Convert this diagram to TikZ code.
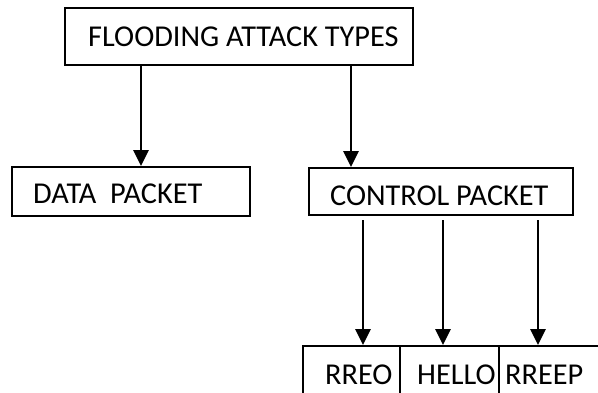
\documentclass[tikz,border=0pt]{standalone}
\usepackage{fontspec}
\setmainfont{Carlito}
\usetikzlibrary{arrows.meta,positioning}
\tikzset{
  box/.style={rectangle, draw=black, line width=1.8pt, inner sep=0pt},
  lbl/.style={anchor=base west, inner sep=0pt, font=\fontsize{30.3}{33}\selectfont},
  arr/.style={line width=2.4pt, -{Triangle[length=16pt, width=15pt]}}
}

\begin{document}
\begin{tikzpicture}[x=1pt, y=-1pt]
  \useasboundingbox (0,0) rectangle (598,392);
  % boxes
  \node[box, minimum width=348pt, minimum height=57pt] (types) at (239, 36.5) {};
  \node[box, minimum width=238pt, minimum height=49pt] (datapkt) at (131, 191.5) {};
  \node[box, minimum width=264pt, minimum height=47pt] (ctrlpkt) at (441, 191.5) {};
  \node[box, minimum width=97pt, minimum height=60pt] (rreq) at (351.5, 376) {};
  \node[box, minimum width=99pt, minimum height=60pt] (hello) at (449.5, 376) {};
  \node[box, minimum width=111pt, minimum height=60pt] (rrep) at (554.5, 376) {};
  % texts
  \node[lbl] (typestxt) at (88, 46) {FLOODING ATTACK TYPES};
  \node[lbl] (datatxt) at (33, 203) {DATA\ \ PACKET};
  \node[lbl] (ctrltxt) at (330, 205) {CONTROL PACKET};
  \node[lbl] (rreqtxt) at (325, 384) {RREO};
  \node[lbl] (hellotxt) at (417, 384) {HELLO};
  \node[lbl] (rreptxt) at (505, 384) {RREEP};
  % arrows
  \coordinate (xdata) at (141, 0);
  \coordinate (xctrl) at (351, 0);
  \coordinate (xrreq) at (363, 220);
  \coordinate (xhello) at (443, 220);
  \coordinate (xrrep) at (538, 220);
  \draw[arr] (types.south -| xdata) -- (datapkt.north -| xdata);
  \draw[arr] (types.south -| xctrl) -- (ctrlpkt.north -| xctrl);
  \draw[arr] (xrreq) -- (rreq.north -| xrreq);
  \draw[arr] (xhello) -- (hello.north -| xhello);
  \draw[arr] (xrrep) -- (rrep.north -| xrrep);
\end{tikzpicture}
\end{document}
